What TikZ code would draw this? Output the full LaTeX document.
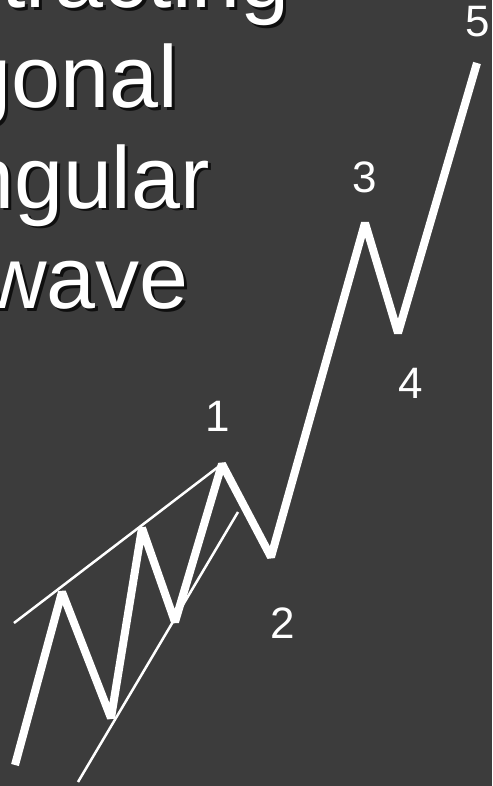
\documentclass[tikz,border=0pt]{standalone}
\usepackage{fontspec}
\setmainfont{Liberation Sans}
\definecolor{slide}{RGB}{60,60,60}
\tikzset{
  wavepart/.style={draw=white, line width=8pt, line join=bevel},
  trendline/.style={draw=white, line width=2.5pt},
  wavelabel/.style={text=white, inner sep=0pt, font=\fontsize{44}{48}\selectfont},
  titleline/.style={text=white, inner sep=0pt, anchor=base east, font=\fontsize{88}{100}\selectfont},
  titleshadow/.style={titleline, text=black, opacity=0.75}
}
\begin{document}
\begin{tikzpicture}[x=1pt,y=1pt,yscale=-1,xscale=1]

% --- 1. 背景 ---
\useasboundingbox (0,0) rectangle (492,786);
\fill [slide] (0,0) rectangle (492,786);

% --- 2. 标题文字（左侧被裁掉） ---
\foreach \word/\xr/\yb in {tracting/290/8, gonal/178/108, ngular/210/208, wave/189/308}
  \node [titleshadow] at (\xr+3,\yb+3) {\word};
\node [titleline] (t1) at (290,8) {tracting};
\node [titleline] (t2) at (178,108) {gonal};
\node [titleline] (t3) at (210,208) {ngular};
\node [titleline] (t4) at (189,308) {wave};

% --- 3. 波浪的转折点 ---
\coordinate (w0) at (15,765);
\coordinate (a1) at (62,592);
\coordinate (a2) at (111,718);
\coordinate (a3) at (142,528);
\coordinate (a4) at (175,622);
\coordinate (w1) at (222,464);
\coordinate (w2) at (271,557);
\coordinate (w3) at (365,223);
\coordinate (w4) at (398,333);
\coordinate (w5) at (477,63);

% --- 4. 三角形的两条边 ---
\coordinate (up0) at (14,623);
\coordinate (lo0) at (78,782);
\coordinate (lo1) at (238,512);
\draw [trendline] (up0) -- (w1);
\draw [trendline] (lo0) -- (lo1);

% --- 5. 粗的波浪线 ---
\draw [wavepart] (w0) -- (a1) -- (a2) -- (a3) -- (a4) -- (w1) -- (w2)
  -- (w3) -- (w4) -- (w5);

% --- 6. 波浪编号 ---
\node [wavelabel] (n1) at (218,416) {1};
\node [wavelabel] (n2) at (283,623) {2};
\node [wavelabel] (n3) at (365,177) {3};
\node [wavelabel] (n4) at (411,383) {4};
\node [wavelabel] (n5) at (478,22) {5};

\end{tikzpicture}
\end{document}
